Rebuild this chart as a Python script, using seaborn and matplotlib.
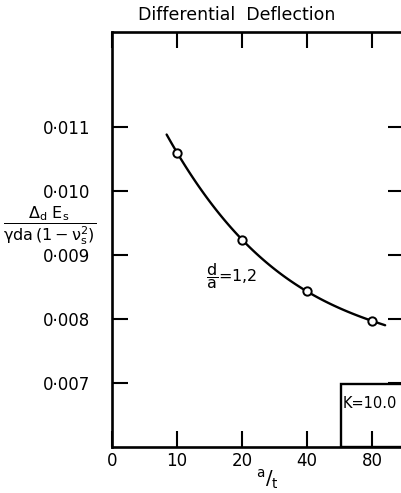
import numpy as np
import pandas as pd
import seaborn as sns
import matplotlib
matplotlib.use("Agg")
import matplotlib.pyplot as plt
from matplotlib.patches import Rectangle

# ---- data ----
x_categories = ["0", "10", "20", "40", "80"]
point_categories = ["10", "20", "40", "80"]
deflection = [0.01060, 0.00924, 0.00843, 0.00797]
y_ticks = [0.007, 0.008, 0.009, 0.010, 0.011]
y_tick_labels = ["0·007", "0·008", "0·009", "0·010", "0·011"]
title = "Differential  Deflection"
curve_label = r"$\dfrac{d}{a}$=1,2"
k_label = "K=10.0"

sns.set_style("white")
plt.rcParams["font.family"] = ["DejaVu Sans"]
plt.rcParams["text.color"] = "black"
plt.rcParams["mathtext.fontset"] = "dejavusans"
plt.rcParams["mathtext.default"] = "regular"

pos = {c: i for i, c in enumerate(x_categories)}
df = pd.DataFrame({"pos": [pos[c] for c in point_categories], "val": deflection})

W, H = 402, 493
fig = plt.figure(figsize=(W / 100, H / 100), dpi=100)
ax = fig.add_axes([112 / W, 46 / H, (404 - 112) / W, (447 - 32) / H])

# smooth curve through the points (cubic fit by seaborn), drawn over a limited span
ax.set_xlim(0.84, 4.2)
sns.regplot(data=df, x="pos", y="val", order=3, ci=None, scatter=False,
            truncate=False, ax=ax, line_kws=dict(color="black", lw=1.7))
sns.scatterplot(data=df, x="pos", y="val", ax=ax, s=36, facecolor="white",
                edgecolor="black", linewidth=1.4, zorder=5, legend=False)

ax.set_xlim(0, 4.49)
ax.set_ylim(0.006, 0.012484)

ax.set_xticks(range(len(x_categories)))
ax.set_xticklabels(x_categories)
ax.set_yticks(y_ticks)
ax.set_yticklabels(y_tick_labels)
ax.set_xlabel("")
ax.set_ylabel("")

for s in ax.spines.values():
    s.set_linewidth(1.9)
    s.set_color("black")

ax.tick_params(axis="both", direction="in", length=11.5, width=1.5, color="black",
               labelsize=12, labelcolor="black")
ax.tick_params(axis="x", top=True, bottom=True, pad=3.5)
ax.tick_params(axis="y", left=True, right=True, pad=49.5)
for lab in ax.get_yticklabels():
    lab.set_horizontalalignment("left")

# K box (lower right)
box_left = (340.7 - 112) / (404 - 112)
box_top = (447 - 384) / (447 - 32)
ax.add_patch(Rectangle((box_left, 0), 1, box_top, transform=ax.transAxes,
                       fill=False, lw=1.7, ec="black", zorder=4))
ax.text((343 - 112) / (404 - 112), (447 - 404) / (447 - 32), k_label,
        transform=ax.transAxes, ha="left", va="center", fontsize=10.5)

# curve label
ax.text((206 - 112) / (404 - 112), (447 - 276) / (447 - 32), curve_label,
        transform=ax.transAxes, ha="left", va="center", fontsize=11.5)

# title, axis labels
fig.text(237 / W, 1 - 15.5 / H, title, ha="center", va="center", fontsize=12.5)
fig.text(267 / W, 1 - 479 / H, r"$^{a}/_{t}$", ha="center", va="center", fontsize=14)
fig.text(50 / W, 1 - 226 / H, r"$\dfrac{\Delta_d\ E_s}{\gamma da\,(1-\nu_s^2)}$",
         ha="center", va="center", fontsize=11.5)

fig.savefig("out.png", dpi=100)
